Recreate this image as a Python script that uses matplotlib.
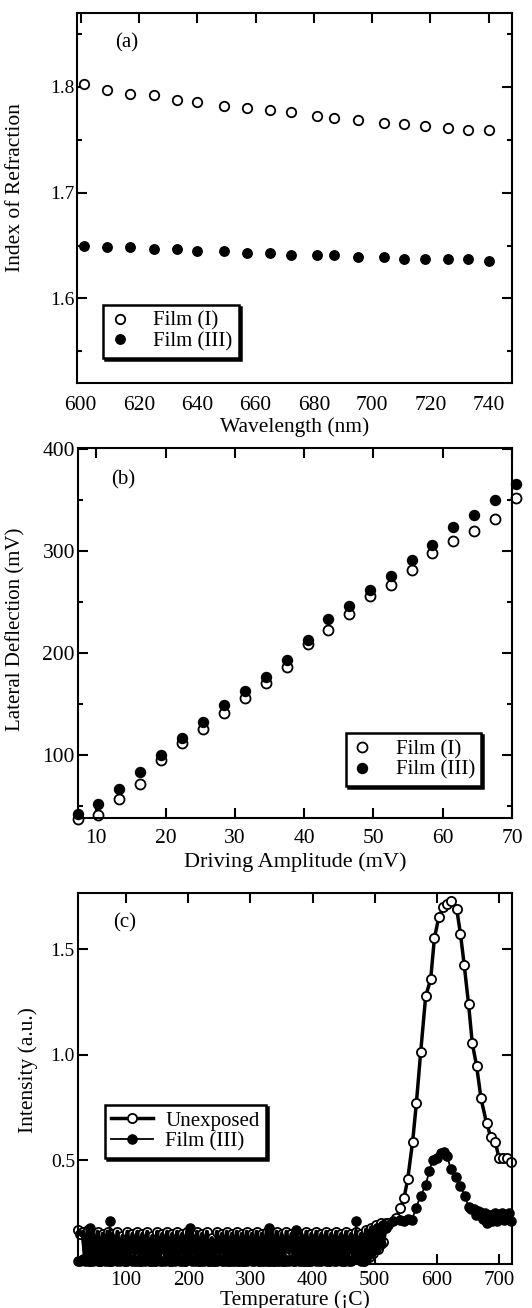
import numpy as np
import matplotlib.pyplot as plt
from matplotlib.ticker import MultipleLocator

plt.rcParams['font.family'] = ['Liberation Serif', 'DejaVu Serif']
plt.rcParams['font.size'] = 15
plt.rcParams['axes.linewidth'] = 1.5
plt.rcParams['path.simplify'] = False  # keep every zigzag of the noisy baseline

# (a) refractive index vs wavelength
wl_I = [601, 609, 617, 625, 633, 640, 649, 657, 665, 672, 681, 687, 695, 704, 711, 718, 726, 733, 740]
n_I = [1.8025, 1.7975, 1.7937, 1.7922, 1.7880, 1.7858, 1.7824, 1.7805, 1.7780, 1.7760,
       1.7723, 1.7704, 1.7685, 1.7663, 1.7647, 1.7629, 1.7610, 1.7590, 1.7590]
n_III = [1.6500, 1.6482, 1.6482, 1.6463, 1.6463, 1.6444, 1.6444, 1.6425, 1.6425, 1.6406,
         1.6406, 1.6406, 1.6387, 1.6387, 1.6370, 1.6370, 1.6370, 1.6370, 1.6350]

# (b) lateral deflection vs driving amplitude
amp = [7.3, 10.2, 13.3, 16.3, 19.3, 22.3, 25.4, 28.4, 31.4, 34.5, 37.5,
       40.5, 43.4, 46.5, 49.5, 52.5, 55.5, 58.5, 61.5, 64.5, 67.6, 70.6]
defl_I = [37.7, 41, 57.4, 71.5, 95, 111.5, 126, 141.6, 155.7, 170.5, 186,
          208.9, 223, 238.7, 255.7, 267.2, 282, 298.4, 309.8, 320.3, 332, 352.5]
defl_III = [42, 51.8, 67.2, 83.6, 100, 116.4, 132, 149, 163.3, 177, 193.4,
            213, 233.4, 246, 262.3, 276, 291.8, 306, 324, 336, 350, 365.6]

# (c) intensity vs temperature
t_base = [22, 26, 30, 34, 38, 42, 46, 50, 54, 58, 62, 66, 70, 74, 78, 82,
          86, 90, 94, 98, 102, 106, 110, 114, 118, 122, 126, 130, 134, 138, 142, 146,
          150, 154, 158, 162, 166, 170, 174, 178, 182, 186, 190, 194, 198, 202, 206, 210,
          214, 218, 222, 226, 230, 234, 238, 242, 246, 250, 254, 258, 262, 266, 270, 274,
          278, 282, 286, 290, 294, 298, 302, 306, 310, 314, 318, 322, 326, 330, 334, 338,
          342, 346, 350, 354, 358, 362, 366, 370, 374, 378, 382, 386, 390, 394, 398, 402,
          406, 410, 414, 418, 422, 426, 430, 434, 438, 442, 446, 450, 454, 458, 462, 466,
          470, 474, 478, 482, 486, 490, 494, 498, 502, 506, 510, 514, 518]
unexp_base = [17, 15, 16, 3, 17, 2, 15, 3, 16, 2, 15, 4, 16, 2, 15, 3,
              16, 3, 14, 2, 16, 3, 15, 5, 16, 2, 15, 3, 16, 2, 14, 2,
              16, 3, 15, 5, 16, 2, 15, 3, 16, 4, 15, 2, 16, 3, 15, 4,
              16, 2, 15, 3, 16, 2, 13, 2, 16, 5, 15, 3, 16, 2, 15, 3,
              16, 2, 15, 2, 16, 4, 15, 3, 16, 2, 15, 3, 16, 2, 15, 2,
              16, 3, 15, 2, 16, 6, 15, 2, 16, 3, 15, 2, 16, 2, 15, 4,
              16, 3, 15, 3, 16, 2, 15, 3, 16, 3, 15, 2, 16, 5, 15, 3,
              16, 3, 15, 2, 17, 4, 18, 6, 19, 8, 20, 11, 20]
film3_base = [2, 2, 3, 2, 2, 18, 2, 3, 2, 2, 3, 2, 2, 21, 2, 3,
              2, 2, 3, 2, 2, 3, 2, 2, 2, 3, 2, 2, 3, 2, 2, 2,
              3, 2, 2, 2, 3, 2, 2, 2, 3, 2, 2, 2, 3, 18, 2, 2,
              3, 2, 2, 2, 3, 2, 2, 2, 2, 3, 2, 2, 2, 3, 2, 2,
              2, 3, 2, 2, 2, 3, 2, 2, 3, 2, 2, 2, 2, 18, 2, 3,
              2, 2, 2, 3, 2, 2, 3, 2, 17, 2, 2, 3, 2, 2, 2, 3,
              2, 2, 2, 3, 2, 2, 3, 2, 2, 3, 2, 2, 3, 2, 2, 3,
              21, 3, 2, 12, 3, 15, 6, 17, 8, 18, 10, 19, 18]

t_peak_unexp = [522, 534, 541, 547, 553, 561, 567, 574, 582, 590, 596, 603, 610, 616, 622,
                632, 638, 644, 651, 657, 664, 671, 680, 687, 694, 700, 707, 713, 719]
unexp_peak = [0.200, 0.224, 0.271, 0.318, 0.408, 0.587, 0.769, 1.013, 1.277, 1.356, 1.551,
              1.650, 1.697, 1.712, 1.727, 1.688, 1.571, 1.424, 1.239, 1.053, 0.945, 0.792,
              0.674, 0.607, 0.587, 0.508, 0.508, 0.508, 0.492]

t_peak_film3 = [522, 530, 541, 547, 553, 560, 566, 574, 582, 588, 593, 600, 606, 612, 617,
                622, 630, 638, 645, 651, 655, 659, 663, 666, 670, 674, 678, 681, 685, 688,
                690, 694, 697, 701, 704, 708, 712, 716, 720]
film3_peak = [0.190, 0.210, 0.216, 0.210, 0.219, 0.215, 0.271, 0.330, 0.382, 0.450, 0.500,
              0.511, 0.535, 0.540, 0.520, 0.456, 0.420, 0.377, 0.330, 0.279, 0.270, 0.266,
              0.240, 0.260, 0.255, 0.220, 0.250, 0.203, 0.240, 0.210, 0.235, 0.250, 0.210,
              0.228, 0.250, 0.215, 0.224, 0.250, 0.213]

base_unexp = [v / 100 for v in unexp_base]
t_unexp = t_base + t_peak_unexp
i_unexp = base_unexp + unexp_peak
t_film3 = t_base + t_peak_film3
i_film3 = [v / 100 for v in film3_base] + film3_peak


def style_axes(ax, bottom_ticks=True, ysize=15, xsize=15.5, xpad=6):
    ax.tick_params(which='both', direction='in', top=True, right=True,
                   bottom=bottom_ticks, width=1.5)
    ax.tick_params(which='major', length=7)
    ax.tick_params(which='minor', length=3.5)
    ax.tick_params(axis='x', labelsize=xsize, pad=xpad)
    ax.tick_params(axis='y', labelsize=ysize, pad=2)


def framed_legend(ax, anchor, **kw):
    leg = ax.legend(loc='lower left', bbox_to_anchor=anchor, borderaxespad=0,
                    fancybox=False, edgecolor='black', framealpha=1,
                    shadow={'color': 'black', 'alpha': 1, 'ox': 1.5, 'oy': -1.5},
                    fontsize=15, **kw)
    leg.get_frame().set_linewidth(1.8)
    return leg


fig = plt.figure(figsize=(5.32, 13.08), dpi=100)

# panel (a)
ax1 = fig.add_axes([0.1447, 0.7072, 0.8177, 0.2829])
ax1.plot(wl_I, n_I, 'o', ms=6.8, mfc='white', mec='black', mew=1.3, label='Film (I)', clip_on=False)
ax1.plot(wl_I, n_III, 'o', ms=6.8, color='black', label='Film (III)', clip_on=False)
ax1.set_xlim(598.7, 748)
ax1.set_ylim(1.52, 1.87)
ax1.set_xticks(np.arange(600, 741, 20))
ax1.yaxis.set_major_locator(MultipleLocator(0.1))
ax1.yaxis.set_minor_locator(MultipleLocator(0.05))
ax1.yaxis.set_major_formatter(plt.FormatStrFormatter('%.1f'))
style_axes(ax1, bottom_ticks=False, ysize=14, xpad=9.4)
ax1.set_xlabel('Wavelength (nm)', fontsize=15.5, labelpad=1.5)
ax1.set_ylabel('Index of Refraction', fontsize=15.5)
ax1.yaxis.set_label_coords(-0.12, 0.528)
ax1.text(0.087, 0.919, '(a)', transform=ax1.transAxes, fontsize=15, va='center')
framed_legend(ax1, (0.06, 0.068), handlelength=1.0, handletextpad=1.1,
              labelspacing=0.05, borderpad=0.3)

# panel (b)
ax2 = fig.add_axes([0.146, 0.3744, 0.8164, 0.2829])
ax2.plot(amp, defl_I, 'o', ms=7.2, mfc='white', mec='black', mew=1.3, label='Film (I)', clip_on=False)
ax2.plot(amp, defl_III, 'o', ms=7.2, color='black', label='Film (III)', clip_on=False)
ax2.set_xlim(7.3, 70.0)
ax2.set_ylim(38, 401)
ax2.set_xticks(np.arange(10, 71, 10))
ax2.yaxis.set_major_locator(MultipleLocator(100))
ax2.yaxis.set_minor_locator(MultipleLocator(50))
style_axes(ax2, ysize=15.5, xpad=7.7)
ax2.set_xlabel('Driving Amplitude (mV)', fontsize=16, labelpad=2.9)
ax2.set_ylabel('Lateral Deflection (mV)', fontsize=15)
ax2.yaxis.set_label_coords(-0.121, 0.512)
ax2.text(0.078, 0.914, '(b)', transform=ax2.transAxes, fontsize=15, va='center')
framed_legend(ax2, (0.617, 0.087), handlelength=1.0, handletextpad=1.1,
              labelspacing=0.05, borderpad=0.3)

# panel (c)
ax3 = fig.add_axes([0.146, 0.0336, 0.817, 0.2834])
ax3.plot(t_unexp, i_unexp, '-o', lw=2.5, ms=6.6, mfc='white', mec='black', mew=1.3,
         color='black', label='Unexposed', clip_on=False, zorder=2)
# noisy baseline trace drawn again over its own open markers
ax3.plot(t_base, base_unexp, '-', lw=3.0, color='black', zorder=2.5)
ax3.plot(t_film3, i_film3, '-o', lw=1.3, ms=6.6, color='black', label='Film (III)',
         clip_on=False, zorder=3)
ax3.set_xlim(22, 721.4)
ax3.set_ylim(0.007, 1.764)
ax3.set_xticks(np.arange(100, 701, 100))
ax3.set_yticks([0.5, 1.0, 1.5])
ax3.yaxis.set_major_formatter(plt.FormatStrFormatter('%.1f'))
style_axes(ax3, ysize=14, xsize=15, xpad=5)
ax3.set_xlabel('Temperature (¡C)', fontsize=15.5, labelpad=0)
ax3.set_ylabel('Intensity (a.u.)', fontsize=15.5)
ax3.yaxis.set_label_coords(-0.091, 0.523)
ax3.text(0.081, 0.92, '(c)', transform=ax3.transAxes, fontsize=15, va='center')
framed_legend(ax3, (0.063, 0.287), handlelength=2.0, handletextpad=0.6,
              labelspacing=0.05, borderpad=0.3)

fig.savefig('out.png', dpi=100)
